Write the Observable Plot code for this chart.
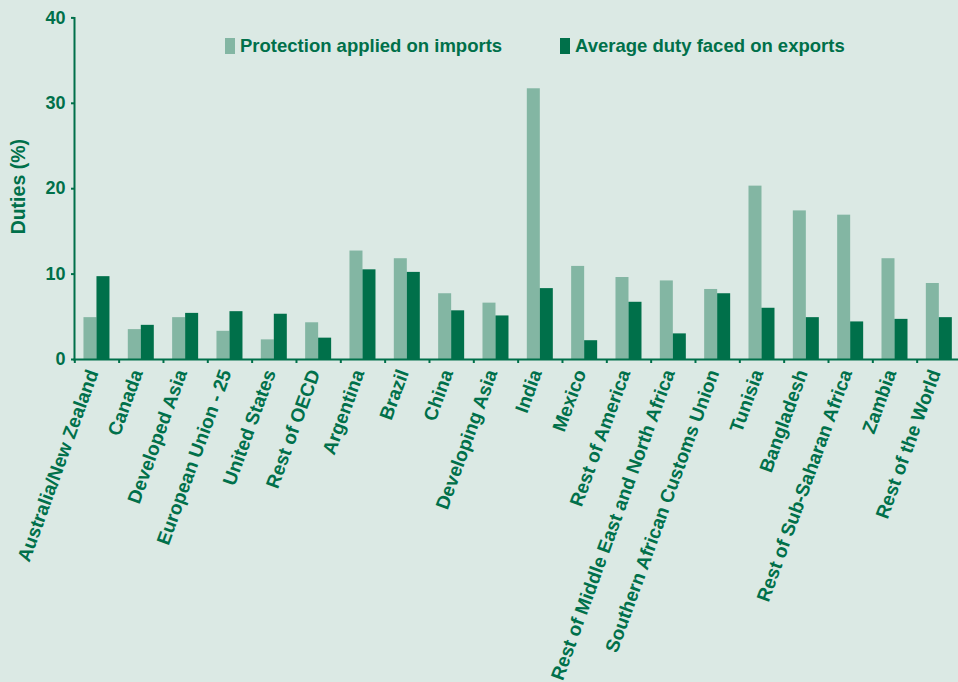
<!DOCTYPE html>
<html>
<head>
<meta charset="utf-8">
<script src="https://cdn.jsdelivr.net/npm/d3@7"></script>
<script src="https://cdn.jsdelivr.net/npm/@observablehq/plot@0.6"></script>
<style>
  html, body { margin: 0; padding: 0; background: #dbe9e4; overflow: hidden; }
  #wrap { position: relative; width: 958px; height: 682px; }
  .legend { position: absolute; top: 35px; font: bold 18.5px "Liberation Sans", Arial, sans-serif; color: #00704a; display: flex; align-items: center; white-space: nowrap; }
  .sw { display: inline-block; width: 10px; height: 16px; margin-right: 5px; }
</style>
</head>
<body>
<div id="wrap">
  <div class="legend" style="left:225px"><span class="sw" style="background:#83b6a3"></span>Protection applied on imports</div>
  <div class="legend" style="left:560px"><span class="sw" style="background:#00704a"></span>Average duty faced on exports</div>
</div>
<script>
const categories = ["Australia/New Zealand","Canada","Developed Asia","European Union - 25","United States","Rest of OECD","Argentina","Brazil","China","Developing Asia","India","Mexico","Rest of America","Rest of Middle East and North Africa","Southern African Customs Union","Tunisia","Bangladesh","Rest of Sub-Saharan Africa","Zambia","Rest of the World"];
const imports = [4.9, 3.5, 4.9, 3.3, 2.3, 4.3, 12.7, 11.8, 7.7, 6.6, 31.7, 10.9, 9.6, 9.2, 8.2, 20.3, 17.4, 16.9, 11.8, 8.9];
const exports_ = [9.7, 4.0, 5.4, 5.6, 5.3, 2.5, 10.5, 10.2, 5.7, 5.1, 8.3, 2.2, 6.7, 3.0, 7.7, 6.0, 4.9, 4.4, 4.7, 4.9];
const yTicks = [0, 10, 20, 30, 40];

const dark = "#00704a", light = "#83b6a3";
const font = '"Liberation Sans", Arial, sans-serif';
const data = categories.map((c, i) => ({category: c, imports: imports[i], exports: exports_[i]}));
const x0 = 74.3, x1 = 961;
const bw = (x1 - x0) / categories.length;
const barW = 13;

const chart = Plot.plot({
  width: 958,
  height: 682,
  marginLeft: 74,
  marginRight: 0,
  marginTop: 17.4,
  marginBottom: 323,
  style: {background: "transparent", fontFamily: font, color: dark},
  x: {domain: categories, range: [x0, x1], padding: 0, round: false, label: null},
  y: {domain: [0, 40], ticks: yTicks, label: null},
  marks: [
    Plot.barY(data, {x: "category", y: "imports", fill: light, insetLeft: bw/2 - barW, insetRight: bw/2}),
    Plot.barY(data, {x: "category", y: "exports", fill: dark, insetLeft: bw/2, insetRight: bw/2 - barW}),
    Plot.axisY({ticks: yTicks, tickSize: 3, tickPadding: 6, stroke: dark, fill: dark, fontSize: 18, fontWeight: "bold", strokeWidth: 2, label: null}),
    Plot.axisX({tickSize: 0, tickRotate: -70, tickPadding: 4, fill: dark, fontSize: 19, fontWeight: "bold", label: null, dx: -4, dy: 7}),
    Plot.axisX({text: null, tickSize: 4, stroke: dark, strokeWidth: 2, dx: -bw/2, label: null}),
    Plot.frame({anchor: "left", stroke: dark, strokeWidth: 2}),
    Plot.frame({anchor: "bottom", stroke: dark, strokeWidth: 2}),
    Plot.text(["Duties (%)"], {frameAnchor: "left", rotate: -90, textAnchor: "middle", dx: -56, dy: -2, fill: dark, fontSize: 19.5, fontWeight: "bold"})
  ]
});
document.getElementById("wrap").prepend(chart);
chart.style.position = "absolute";
chart.style.left = "0";
chart.style.top = "0";
</script>
</body>
</html>
